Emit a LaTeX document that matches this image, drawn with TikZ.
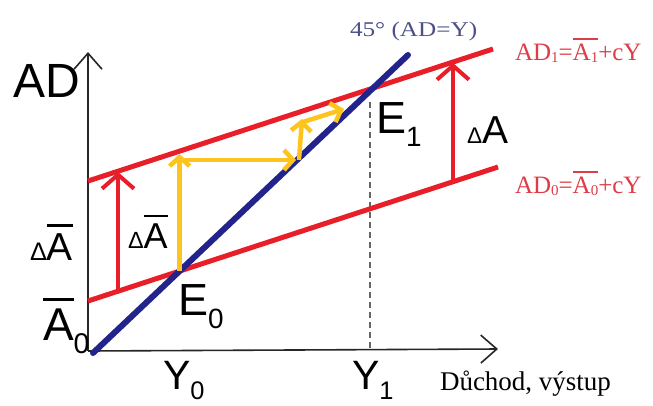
\documentclass[tikz,border=0pt]{standalone}
\usepackage{fontspec}
\setmainfont{Liberation Serif}
\newfontfamily\lsans{Liberation Sans}
\usetikzlibrary{arrows.meta}
\definecolor{adred}{RGB}{232,30,40}
\definecolor{adredtxt}{RGB}{222,60,70}
\definecolor{navyline}{RGB}{35,35,140}
\definecolor{navytxt}{RGB}{75,80,135}
\definecolor{gold}{RGB}{252,196,28}
\newsavebox\obarbox
\newcommand\lsub[2][-0.3em]{\raisebox{#1}{\scalebox{0.62}{#2}}}
\newcommand\ssub[1]{\raisebox{-0.08em}{\scalebox{0.6}{#1}}}
\newcommand\obar[2][0.85em]{\sbox\obarbox{#2}\rlap{\rule[#1]{\wd\obarbox}{0.07em}}\usebox\obarbox}
\newcommand\sdelta[1][0.6]{\scalebox{#1}{Δ}}
\begin{document}
\begin{tikzpicture}[x=1pt,y=-1pt,
  lbl/.style={anchor=base west, inner sep=0pt, outer sep=0pt},
  bigsans/.style={lbl, font=\lsans\fontsize{#1}{#1}\selectfont},
  axisline/.style={line width=1.6pt, black!85, -{Straight Barb[length=16pt,width=28pt,line width=1.6pt]}},
  redline/.style={adred, line width=5pt},
  blueline/.style={navyline, line width=6pt, line cap=round},
  redarrow/.style={adred, line width=4pt, -{Straight Barb[length=14pt,width=32pt]}},
  yarrow/.style={gold, line width=4.5pt, -{Straight Barb[length=9pt,width=20pt]}},
  dashline/.style={black!60, line width=1.6pt, dash pattern=on 6pt off 4pt}]
\useasboundingbox (0,0) rectangle (653,405);
\fill[white] (0,0) rectangle (653,405);
% coordinates
\coordinate (O) at (88,351);
\coordinate (Yt) at (88,52);
\coordinate (Xt) at (498,349);
\coordinate (L0a) at (88,301);
\coordinate (L0b) at (498,167);
\coordinate (L1a) at (88,181);
\coordinate (L1b) at (493,49);
\coordinate (Ba) at (93,353);
\coordinate (Bb) at (408,55);
\coordinate (E0) at (intersection of L0a--L0b and Ba--Bb);
\coordinate (E1) at (intersection of L1a--L1b and Ba--Bb);
% axes
\draw[axisline] (O) -- (Yt);
\draw[axisline] (O) -- (Xt);
% dashed
\path (E1) ++(-3,14) coordinate (Dtop);
\draw[dashline] (Dtop) -- (Dtop |- O);
% AD lines
\draw[redline] (L0a) -- (L0b);
\draw[redline] (L1a) -- (L1b);
\draw[blueline] (Ba) -- (Bb);
% yellow staircase
\coordinate (s2) at (E0 |- 0,154);
\coordinate (s3) at (E0 |- 0,160);
\coordinate (s4) at (296,160);
\coordinate (s5) at (299,160);
\coordinate (s6) at (302,119);
\coordinate (s7) at (303,122);
\coordinate (s8) at (344,109);
\draw[yarrow] (E0) -- (s2);
\draw[yarrow] (s3) -- (s4);
\draw[yarrow] (s5) -- (s6);
\draw[yarrow] (s7) -- (s8);
% red arrows
\coordinate (ra0) at (118,291);
\coordinate (ra1) at (118,172);
\coordinate (rb0) at (453,182);
\coordinate (rb1) at (453,63);
\draw[redarrow] (ra0) -- (ra1);
\draw[redarrow] (rb0) -- (rb1);
% labels
\node[bigsans=48] (ad) at (13,97) {AD};
\node[lbl, text=navytxt, font=\fontsize{21}{21}\selectfont] (l45) at (350,36) {\scalebox{1.2}[1]{45° (AD=Y)}};
\node[lbl, text=adredtxt, font=\fontsize{25}{25}\selectfont] (lad1) at (515,60) {AD\ssub{1}=\obar[0.8em]{A\ssub{1}}+cY};
\node[lbl, text=adredtxt, font=\fontsize{25}{25}\selectfont] (lad0) at (515,193) {AD\ssub{0}=\obar[0.8em]{A\ssub{0}}+cY};
\node[bigsans=45] (le1) at (376,133) {E\lsub{1}};
\node[bigsans=39] (lda) at (467,143) {\sdelta[0.58]A};
\node[bigsans=39] (ldal) at (30,260) {\sdelta[0.65]\obar{A}};
\node[bigsans=36] (ldai) at (128,248) {\sdelta[0.65]\obar{A}};
\node[bigsans=46] (la0) at (43,340) {\obar{A}\lsub{0}};
\node[bigsans=45] (le0) at (178,315) {E\lsub{0}};
\node[bigsans=41] (ly0) at (163,389) {Y\lsub[-0.25em]{0}};
\node[bigsans=41] (ly1) at (352,389) {Y\lsub[-0.25em]{1}};
\node[lbl, font=\fontsize{27}{27}\selectfont] (lx) at (440,390) {Důchod, výstup};
\end{tikzpicture}
\end{document}
